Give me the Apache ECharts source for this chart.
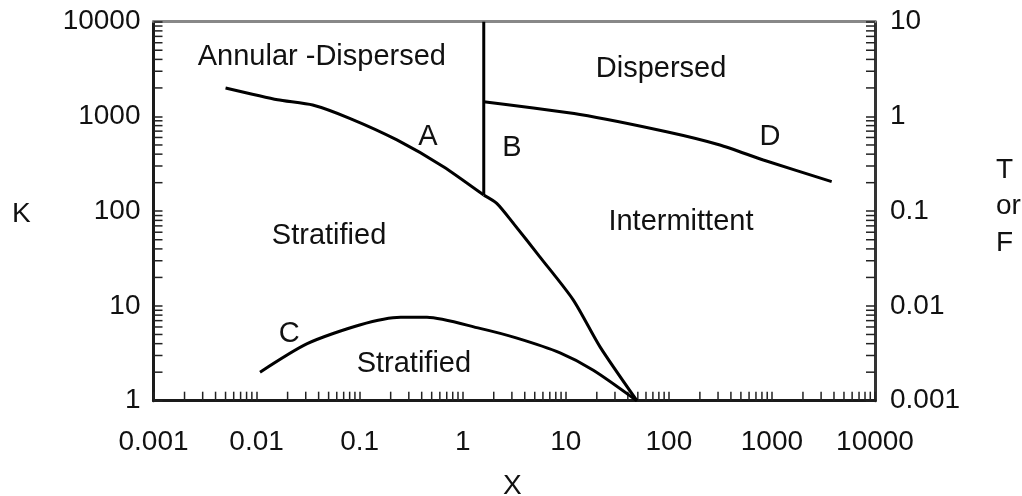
<!DOCTYPE html>
<html>
<head>
<meta charset="utf-8">
<script src="https://cdn.jsdelivr.net/npm/echarts@6/dist/echarts.min.js"></script>
<style>
  html, body { margin: 0; padding: 0; background: #fff; }
  #map { width: 1022px; height: 496px; }
</style>
</head>
<body>
<div id="map"></div>
<script>
// tick labels
var xTickLabels = ["0.001", "0.01", "0.1", "1", "10", "100", "1000", "10000"];
var kTickLabels = ["1", "10", "100", "1000", "10000"];
var tfTickLabels = ["0.001", "0.01", "0.1", "1", "10"];

// decades used for the minor ticks (2..9 in each)
var xDecades = [0.001, 0.01, 0.1, 1, 10, 100, 1000];
var kDecades = [1, 10, 100, 1000];
var tfDecades = [0.001, 0.01, 0.1, 1];
var minorSteps = [2, 3, 4, 5, 6, 7, 8, 9];

// boundary curves, [X, K or T/F]
var curveA = [[0.005, 2000], [0.016, 1500], [0.035, 1320], [0.08, 955], [0.23, 565], [0.65, 295], [1.6, 148]];
var curveB = [[1.6, 148], [2.14, 121], [3.1, 74.5], [5.6, 33], [11.8, 11.6], [21.5, 3.7], [49, 1]];
var curveC = [[0.0108, 2.0], [0.031, 4.0], [0.1, 6.3], [0.25, 7.6], [0.45, 7.6], [1.47, 5.8], [3.3, 4.6], [8.8, 3.2], [18.5, 2.1], [49, 1]];
var curveD = [[1.6, 1430], [13.7, 1050], [95, 690], [313, 500], [825, 347], [3800, 205]];
var vertLine = [[1.6, 148], [1.6, 10000]];

// region labels
var regionNames = ["Annular -Dispersed", "Dispersed", "A", "B", "D", "Stratified", "Intermittent", "C", "Stratified"];
var regionPos = [[0.043, 4240], [84, 3150], [0.46, 610], [3.0, 465], [958, 610], [0.0505, 55], [131, 77], [0.0207, 5.1], [0.336, 2.44]];

var FONT = "'Liberation Sans', Arial, sans-serif";
var TXT = "#111";

function minorVals(decades) {
  var out = [];
  for (var i = 0; i < decades.length; i++) {
    for (var j = 0; j < minorSteps.length; j++) out.push([decades[i] * minorSteps[j]]);
  }
  return out;
}

function tickSeries(kind, yIdx, vals) {
  return {
    type: "custom",
    xAxisIndex: 0,
    yAxisIndex: yIdx,
    silent: true,
    clip: false,
    data: vals,
    renderItem: function (params, api) {
      var v = api.value(0), p, s;
      if (kind === "x") {
        p = api.coord([v, 1]);
        s = { x1: p[0], y1: p[1], x2: p[0], y2: p[1] - 9 };
      } else if (kind === "k") {
        p = api.coord([0.001, v]);
        s = { x1: p[0], y1: p[1], x2: p[0] + 9, y2: p[1] };
      } else {
        p = api.coord([10000, v]);
        s = { x1: p[0], y1: p[1], x2: p[0] - 9, y2: p[1] };
      }
      return { type: "line", shape: s, style: { stroke: "#222", lineWidth: 1.5 } };
    }
  };
}

function curve(data, smooth) {
  return {
    type: "line",
    data: data,
    showSymbol: false,
    silent: true,
    smooth: smooth || false,
    lineStyle: { color: "#000", width: 3 },
    z: 5
  };
}

var regionData = [];
for (var i = 0; i < regionNames.length; i++) {
  regionData.push({ name: regionNames[i], value: regionPos[i] });
}

var chart = echarts.init(document.getElementById("map"));
chart.setOption({
  animation: false,
  grid: { left: 153.5, right: 147, top: 21.7, bottom: 95.3 },
  xAxis: [
    {
      type: "log", min: 0.001, max: 10000, position: "bottom",
      axisLine: { lineStyle: { color: "#1a1a1a", width: 3 } },
      axisTick: { inside: true, length: 9, lineStyle: { color: "#222", width: 1.5 } },
      axisLabel: {
        margin: 28, fontSize: 28, fontFamily: FONT, color: TXT,
        formatter: function (v, i) { return xTickLabels[i]; }
      },
      splitLine: { show: false }
    },
    {
      type: "log", min: 0.001, max: 10000, position: "top",
      axisLine: { lineStyle: { color: "#888", width: 3 } },
      axisTick: { show: false }, axisLabel: { show: false }, splitLine: { show: false }
    }
  ],
  yAxis: [
    {
      type: "log", min: 1, max: 10000, position: "left",
      axisLine: { lineStyle: { color: "#1a1a1a", width: 3 } },
      axisTick: { inside: true, length: 9, lineStyle: { color: "#222", width: 1.5 } },
      axisLabel: {
        margin: 13, fontSize: 28, fontFamily: FONT, color: TXT,
        formatter: function (v, i) { return kTickLabels[i]; }
      },
      splitLine: { show: false }
    },
    {
      type: "log", min: 0.001, max: 10, position: "right",
      axisLine: { lineStyle: { color: "#333", width: 3 } },
      axisTick: { inside: true, length: 9, lineStyle: { color: "#222", width: 1.5 } },
      axisLabel: {
        margin: 15, fontSize: 28, fontFamily: FONT, color: TXT,
        formatter: function (v, i) { return tfTickLabels[i]; }
      },
      splitLine: { show: false }
    }
  ],
  graphic: [
    { type: "text", left: 12, top: 200, style: { text: "K", font: "28px " + FONT, fill: TXT } },
    { type: "text", left: 503, top: 472, style: { text: "X", font: "28px " + FONT, fill: TXT } },
    {
      type: "text", left: 996, top: 152,
      style: { text: "T\nor\nF", font: "28px " + FONT, fill: TXT, align: "center", lineHeight: 36.5 }
    }
  ],
  series: [
    curve(curveA, 0.2),
    curve(curveB, 0.25),
    curve(curveC, 0.25),
    curve(curveD, 0.2),
    curve(vertLine),
    tickSeries("x", 0, minorVals(xDecades)),
    tickSeries("k", 0, minorVals(kDecades)),
    tickSeries("tf", 1, minorVals(tfDecades)),
    {
      type: "scatter",
      data: regionData,
      symbolSize: 0,
      silent: true,
      itemStyle: { opacity: 1 },
      label: {
        show: true, position: "inside", formatter: "{b}", opacity: 1,
        fontSize: 29, fontFamily: FONT, color: TXT, textBorderWidth: 0
      }
    }
  ]
});
</script>
</body>
</html>
